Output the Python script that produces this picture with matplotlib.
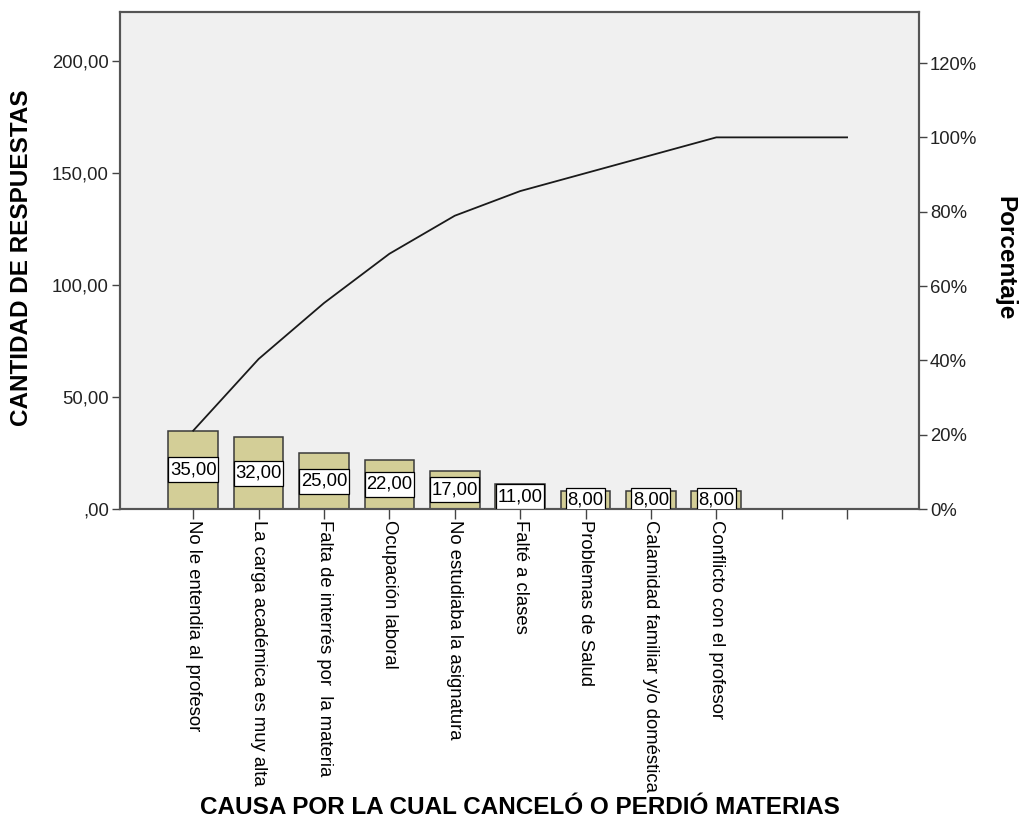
import matplotlib
matplotlib.use("Agg")
import matplotlib.pyplot as plt
from matplotlib.patches import Rectangle
from matplotlib.transforms import IdentityTransform
import numpy as np

categories = [
    "No le entendia al profesor",
    "La carga académica es muy alta",
    "Falta de interrés por  la materia",
    "Ocupación laboral",
    "No estudiaba la asignatura",
    "Falté a clases",
    "Problemas de Salud",
    "Calamidad familiar y/o doméstica",
    "Conflicto con el profesor",
    "",
    "",
]
counts = [35, 32, 25, 22, 17, 11, 8, 8, 8, 0, 0]
left_ticks = [0, 50, 100, 150, 200]
right_ticks = [0, 20, 40, 60, 80, 100, 120]

plt.rcParams['font.family'] = ['Liberation Sans', 'DejaVu Sans']

fig = plt.figure(figsize=(10.21, 8.25), dpi=100)
W, H = 1021, 825
L, R, T, B = 120, 919, 12, 509
ax = fig.add_axes([L / W, 1 - B / H, (R - L) / W, (B - T) / H])
ax2 = ax.twinx()
ax.set_zorder(0)
ax2.set_zorder(1)
ax.set_facecolor('#f0f0f0')
ax2.patch.set_visible(False)

x = np.arange(len(categories))
total = sum(counts)
ymax = 222
ax.set_xlim(-1.12, 11.1)
ax.set_ylim(0, ymax)
ax2.set_ylim(0, ymax / total * 100)

ax.bar(x, counts, width=0.76, color='#d3ce97', edgecolor='#3a3a3a', linewidth=1.1, zorder=2)
cum = np.cumsum(counts) / total * 100
ax2.plot(x, cum, color='#1a1a1a', linewidth=1.3, zorder=1)

# value labels on ax2 (top layer), positioned in count units via ax.transData
labels = []
for xi, c in zip(x, counts):
    if c > 0:
        lab = f"{c:.2f}".replace('.', ',')
        t = ax2.text(xi, c / 2, lab, ha='center', va='center', fontsize=13.3, color='black',
                     zorder=5, transform=ax.transData)
        labels.append((t, xi, c))

def lfmt(v):
    s = f"{v:.2f}".replace('.', ',')
    if s.startswith('0,'):
        s = s[1:]
    return s

ax.set_yticks(left_ticks)
ax.set_yticklabels([lfmt(v) for v in left_ticks])
ax2.set_yticks(right_ticks)
ax2.set_yticklabels([f"{v}%" for v in right_ticks])

ax.set_xticks(x)
ax.set_xticklabels(categories, rotation=270, fontsize=13.3, va='top', ha='center')

for a in (ax, ax2):
    for s in a.spines.values():
        s.set_color('#555555')
        s.set_linewidth(1.5)
    a.tick_params(axis='both', length=6, width=1, color='#444444', labelsize=13.3, labelcolor='#222222', pad=2)

ax.tick_params(axis='x', length=7, pad=1, labelcolor='black')

ax.set_ylabel('CANTIDAD DE RESPUESTAS', fontsize=17.5, fontweight='bold', va='center')
ax.yaxis.set_label_coords(-(L - 22) / (R - L), (B - 258) / (B - T))
ax2.set_ylabel('Porcentaje', fontsize=17.5, fontweight='bold', rotation=270, va='center')
ax2.yaxis.set_label_coords((1005 - L) / (R - L), (B - 258) / (B - T))
fig.text(520 / W, 1 - 808 / H, 'CAUSA POR LA CUAL CANCELÓ O PERDIÓ MATERIAS', fontsize=17.5,
         fontweight='bold', ha='center', va='center')

# white boxes behind value labels
fig.canvas.draw()
renderer = fig.canvas.get_renderer()
for t, xi, c in labels:
    bb = t.get_window_extent(renderer)
    cx, cy = ax.transData.transform((xi, c / 2))
    w = bb.width + 3
    h = 25
    rect = Rectangle((cx - w / 2, cy - h / 2), w, h, transform=IdentityTransform(),
                     facecolor='white', edgecolor='black', linewidth=0.9, zorder=4)
    ax2.add_artist(rect)

fig.savefig('out.png', dpi=100, facecolor='white')
